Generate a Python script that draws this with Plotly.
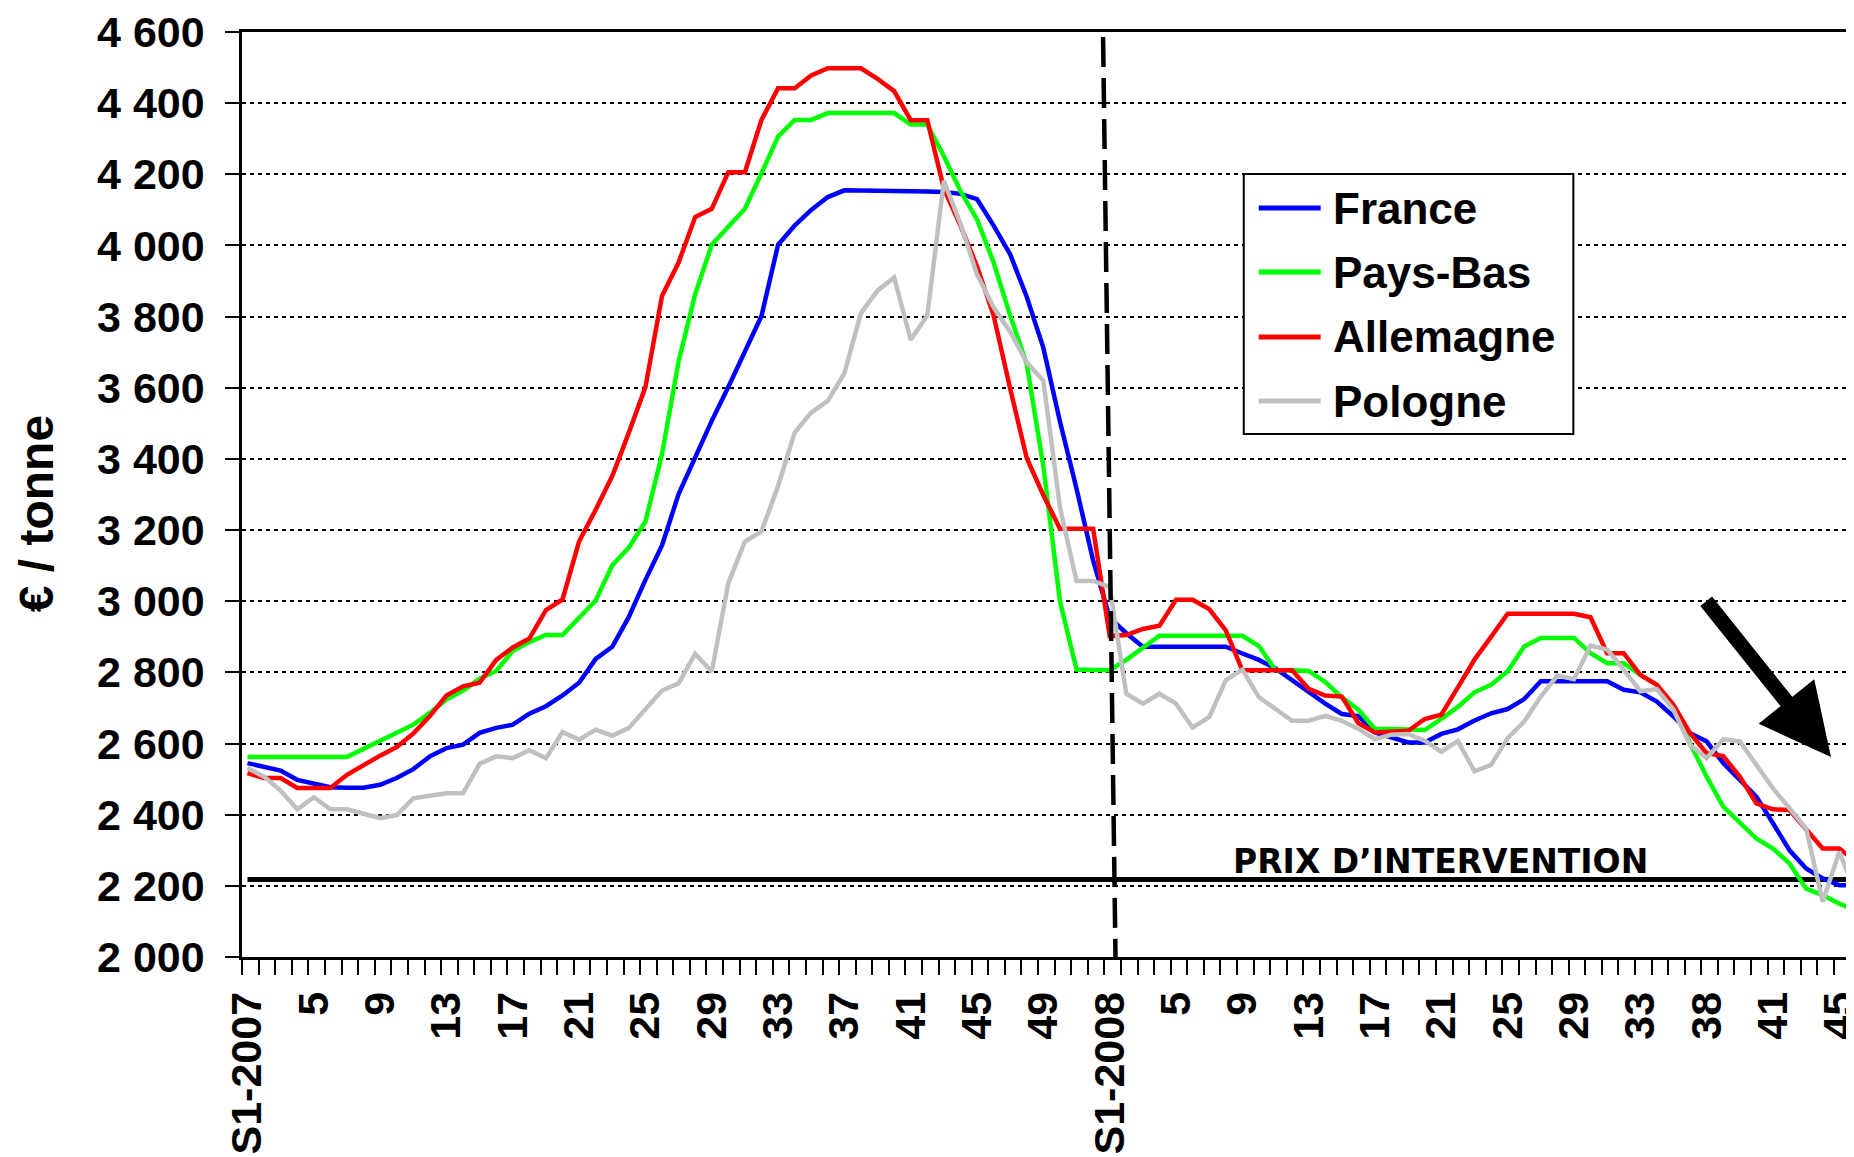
import plotly.graph_objects as go

# ---------------- data ----------------
categories = [f"S{w}-2007" for w in range(1, 53)] + [f"S{w}-2008" for w in range(1, 47)]

tick_labels = ["S1-2007", "5", "9", "13", "17", "21", "25", "29", "33", "37", "41", "45", "49",
               "S1-2008", "5", "9", "13", "17", "21", "25", "29", "33", "38", "41", "45"]

france = [
    2545, 2536, 2524, 2498, 2489, 2477, 2476, 2476, 2484, 2503,
    2528, 2564, 2587, 2597, 2630, 2644, 2653, 2684, 2705, 2735,
    2771, 2838, 2872, 2956, 3060, 3157, 3301, 3407, 3507, 3602,
    3702, 3802, 4002, 4056, 4100, 4136, 4155, 4155, 4152, 4152,
    4152, 4152, 4150, 4145, 4130, 4056, 3975, 3855, 3712, 3505,
    3316, 3115, 2954, 2910, 2872, 2872, 2872, 2872, 2872, 2872,
    2853, 2835, 2811, 2778, 2745, 2712, 2683, 2677, 2631, 2617,
    2603, 2603, 2627, 2640, 2665, 2685, 2697, 2725, 2775, 2775,
    2775, 2775, 2775, 2751, 2744, 2718, 2676, 2629, 2606, 2545,
    2496, 2451, 2376, 2300, 2249, 2221, 2202, 2202]

pays_bas = [
    2562, 2562, 2562, 2562, 2562, 2562, 2562, 2585, 2608, 2630,
    2653, 2686, 2724, 2749, 2782, 2804, 2860, 2885, 2905, 2905,
    2953, 3002, 3101, 3151, 3224, 3413, 3674, 3863, 4002, 4053,
    4103, 4203, 4306, 4353, 4353, 4372, 4372, 4372, 4372, 4372,
    4340, 4340, 4251, 4153, 4073, 3952, 3803, 3666, 3379, 3000,
    2808, 2808, 2806, 2835, 2870, 2903, 2903, 2903, 2903, 2903,
    2903, 2874, 2806, 2806, 2804, 2773, 2730, 2695, 2641, 2641,
    2641, 2638, 2669, 2703, 2744, 2765, 2803, 2873, 2897, 2897,
    2897, 2854, 2826, 2826, 2793, 2765, 2704, 2601, 2507, 2423,
    2376, 2333, 2305, 2263, 2192, 2174, 2150, 2131]

allemagne = [
    2517, 2503, 2503, 2475, 2475, 2475, 2512, 2540, 2566, 2590,
    2628, 2677, 2735, 2761, 2771, 2835, 2870, 2895, 2975, 3005,
    3168, 3257, 3352, 3474, 3602, 3858, 3952, 4080, 4103, 4206,
    4206, 4353, 4442, 4442, 4478, 4498, 4498, 4498, 4468, 4434,
    4352, 4352, 4159, 4056, 3941, 3803, 3597, 3402, 3298, 3204,
    3204, 3204, 2902, 2905, 2922, 2931, 3004, 3004, 2978, 2918,
    2806, 2806, 2806, 2806, 2754, 2735, 2732, 2657, 2631, 2634,
    2636, 2669, 2681, 2758, 2836, 2900, 2965, 2965, 2965, 2965,
    2965, 2955, 2854, 2854, 2793, 2765, 2709, 2629, 2573, 2565,
    2507, 2432, 2415, 2413, 2357, 2305, 2305, 2268]

pologne = [
    2531, 2507, 2468, 2415, 2449, 2415, 2415, 2402, 2390, 2399,
    2446, 2453, 2460, 2460, 2543, 2564, 2559, 2581, 2559, 2632,
    2611, 2639, 2622, 2644, 2695, 2749, 2769, 2852, 2802, 3051,
    3168, 3196, 3324, 3474, 3530, 3563, 3641, 3810, 3873, 3910,
    3735, 3803, 4182, 4061, 3918, 3826, 3757, 3671, 3620, 3264,
    3057, 3057, 3040, 2740, 2712, 2740, 2712, 2645, 2674, 2778,
    2808, 2730, 2697, 2664, 2664, 2678, 2664, 2641, 2612, 2625,
    2627, 2608, 2577, 2607, 2522, 2540, 2615, 2662, 2732, 2791,
    2781, 2875, 2864, 2808, 2747, 2753, 2695, 2596, 2559, 2612,
    2606, 2540, 2474, 2418, 2361, 2155, 2296, 2178]

intervention_price = 2218

series_names = ["France", "Pays-Bas", "Allemagne", "Pologne"]
series_values = [france, pays_bas, allemagne, pologne]
series_colors = ["#0000FF", "#00FF00", "#FF0000", "#C0C0C0"]

# ---------------- figure ----------------
FONT = "Liberation Sans, Arial, sans-serif"
OFF = 8  # page offset of the figure inside the browser window
W, H = 1854, 1157
ML, MR, MT, MB = 242 - OFF, 0, 32 - OFF, 1157 - (957 - OFF)
PW, PH = W - ML - MR, H - MT - MB

x = list(range(len(categories)))

fig = go.Figure()

fig.add_trace(go.Scatter(
    x=x, y=[intervention_price] * len(x), mode="lines",
    line=dict(color="black", width=5), hoverinfo="skip", showlegend=False))

for name, vals, col in zip(series_names, series_values, series_colors):
    fig.add_trace(go.Scatter(
        x=x, y=vals, mode="lines", name=name, customdata=categories,
        line=dict(color=col, width=4.5),
        hovertemplate="%{customdata}: %{y}<extra>" + name + "</extra>",
        showlegend=False))

def px_x(p):  # window pixel -> paper
    return (p - OFF - ML) / PW

def px_y(p):
    return (H - MB - (p - OFF)) / PH

shapes = []
annotations = []

# year separator (dashed, slightly slanted as in the original)
shapes.append(dict(type="line", xref="x", yref="y", x0=51.6, y0=4586, x1=52.35, y1=2000,
                   line=dict(color="black", width=4.5, dash="30px,11px"), layer="above"))

# custom legend
lx0, lx1, ly0, ly1 = 1245, 1575, 174, 434
shapes.append(dict(type="rect", xref="paper", yref="paper",
                   x0=px_x(lx0), x1=px_x(lx1), y0=px_y(ly1), y1=px_y(ly0),
                   line=dict(color="black", width=2), fillcolor="white", layer="above"))
rows = [208, 272, 337, 401]
for name, col, ry in zip(series_names, series_colors, rows):
    shapes.append(dict(type="line", xref="paper", yref="paper",
                       x0=px_x(1260), x1=px_x(1322), y0=px_y(ry), y1=px_y(ry),
                       line=dict(color=col, width=5), layer="above"))
    annotations.append(dict(xref="paper", yref="paper", x=px_x(1332), y=px_y(ry),
                            xanchor="left", yanchor="middle", text=name, showarrow=False,
                            font=dict(family=FONT, size=44, color="black", weight="bold")))

# intervention price label
annotations.append(dict(xref="x", yref="y", x=59.3, y=intervention_price - 10,
                        xanchor="left", yanchor="bottom", text="PRIX D’INTERVENTION",
                        showarrow=False,
                        font=dict(family="DejaVu Sans, sans-serif", size=33, color="black",
                                  weight="bold")))

# downward arrow
annotations.append(dict(xref="x", yref="y", x=95.5, y=2562, axref="x", ayref="y",
                        ax=87.9, ay=3004, text="", showarrow=True, arrowhead=2,
                        arrowsize=0.95, arrowwidth=15, arrowcolor="black", standoff=0))

# y-axis title
annotations.append(dict(xref="paper", yref="paper", x=px_x(36), y=px_y(514),
                        xanchor="center", yanchor="middle", text="€ / tonne", textangle=-90,
                        showarrow=False,
                        font=dict(family=FONT, size=48, color="black", weight="bold")))

fig.update_layout(
    width=W, height=H,
    margin=dict(l=ML, r=MR, t=MT, b=MB, pad=0),
    paper_bgcolor="white", plot_bgcolor="white",
    separators=", ",
    showlegend=False,
    shapes=shapes, annotations=annotations,
    font=dict(family=FONT, color="black"),
)

fig.update_xaxes(
    range=[-0.33, 97.25],
    showline=True, linecolor="black", linewidth=2.5, mirror=True,
    showgrid=False, zeroline=False,
    tickmode="array", tickvals=x[::4], ticktext=tick_labels,
    tickangle=-90, ticks="", ticklabelstandoff=15, ticklabeloverflow="allow",
    tickfont=dict(family=FONT, size=43, color="black", weight="bold"),
    minor=dict(tickmode="array", tickvals=[k - 0.32 for k in range(len(categories))],
               ticks="outside", ticklen=15, tickwidth=2, tickcolor="black", showgrid=False),
)

fig.update_yaxes(
    range=[2000, 4600], tick0=2000, dtick=200, tickformat=",d",
    showline=True, linecolor="black", linewidth=2.5, mirror=False,
    ticks="outside", ticklen=14, tickwidth=2, tickcolor="black",
    ticklabelstandoff=12,
    showgrid=True, gridcolor="black", gridwidth=1.5, griddash="4px,4px",
    zeroline=False,
    tickfont=dict(family=FONT, size=43, color="black", weight="bold"),
)

fig.write_html("out.html")
